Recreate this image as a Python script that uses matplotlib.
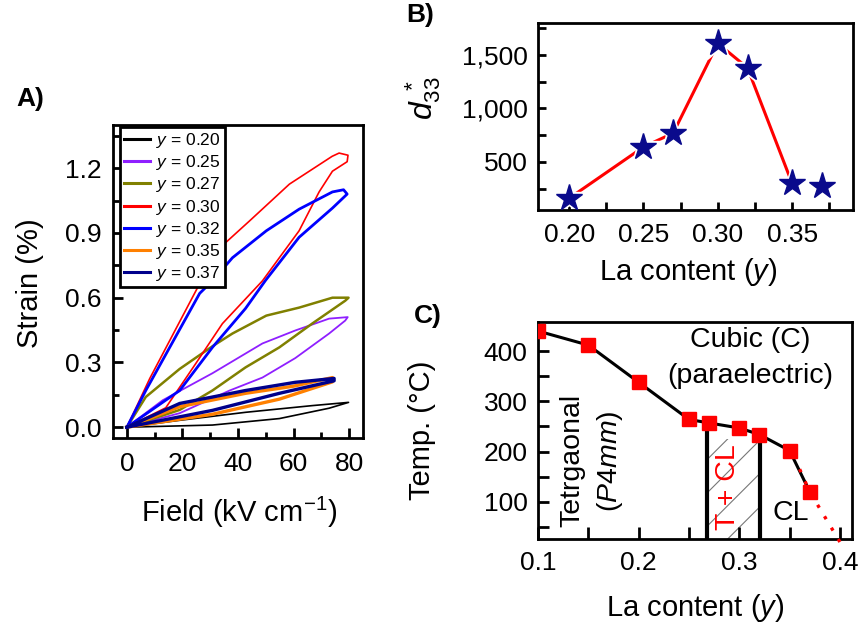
import matplotlib
matplotlib.use("Agg")
import matplotlib.pyplot as plt
from matplotlib.ticker import FormatStrFormatter

plt.rcParams['font.family'] = ['Liberation Sans', 'DejaVu Sans']
plt.rcParams['mathtext.fontset'] = 'custom'
plt.rcParams['mathtext.rm'] = 'Liberation Sans'
plt.rcParams['mathtext.it'] = 'Liberation Sans:italic'
plt.rcParams['mathtext.bf'] = 'Liberation Sans:bold'
plt.rcParams['hatch.linewidth'] = 0.8

#----------Data----------#
# A) strain loops, field up along the lower branch then back down along the upper one
loop_labels = ['0.20', '0.25', '0.27', '0.30', '0.32', '0.35', '0.37']
loop_colors = ['black', '#8f1fff', '#808000', '#ff0000', '#0000ff', '#ff8000', '#00008b']
loop_widths = [1.2, 1.3, 1.8, 1.2, 2.0, 2.4, 2.4]

field_020 = [0, 30.8, 54.9, 72.8, 79.8, 66.7, 42.7, 19, 0]
strain_020 = [0, 0.01, 0.04, 0.088, 0.115, 0.10, 0.069, 0.032, 0]
field_025 = [0, 19, 37, 48.8, 60.6, 72.8, 78.6, 79.5, 72.8, 60.6, 48.8, 30.8, 12.9, 0]
strain_025 = [0, 0.065, 0.17, 0.23, 0.32, 0.434, 0.494, 0.51, 0.503, 0.448, 0.388, 0.25, 0.125, 0]
field_027 = [0, 19, 30.8, 42.7, 54.9, 66.7, 78.6, 79.8, 74, 62, 50.2, 38, 30.8, 19, 6.8, 0]
strain_027 = [0, 0.08, 0.17, 0.277, 0.37, 0.48, 0.586, 0.6, 0.6, 0.554, 0.517, 0.434, 0.375, 0.27, 0.14, 0]
field_030 = [0, 14, 24.8, 34.4, 48.8, 62, 69.2, 74, 79.3, 79.6, 76.4, 73.9, 58.5, 44.1, 33.4, 26.2, 8.25, 0]
strain_030 = [0, 0.09, 0.295, 0.48, 0.678, 0.91, 1.09, 1.186, 1.23, 1.26, 1.27, 1.255, 1.126, 0.955, 0.83, 0.665, 0.226, 0]
field_032 = [0, 19, 30.8, 42.7, 49.9, 62, 74, 79.3, 78, 74, 62, 50.2, 38, 30.8, 26.2, 6.8, 0]
strain_032 = [0, 0.17, 0.37, 0.55, 0.68, 0.88, 1.015, 1.08, 1.1, 1.09, 1.01, 0.91, 0.785, 0.678, 0.62, 0.17, 0]
field_035 = [0, 30.8, 54.9, 74, 74, 60, 42.7, 19, 0]
strain_035 = [0, 0.06, 0.13, 0.21, 0.23, 0.19, 0.157, 0.095, 0]
field_037 = [0, 30.8, 54.9, 74.6, 74.6, 60.6, 42.7, 19, 0]
strain_037 = [0, 0.078, 0.157, 0.215, 0.226, 0.208, 0.17, 0.11, 0]

loop_fields = [field_020, field_025, field_027, field_030, field_032, field_035, field_037]
loop_strains = [strain_020, strain_025, strain_027, strain_030, strain_032, strain_035, strain_037]

# B) d33* vs La content
la_b = [0.20, 0.25, 0.27, 0.30, 0.32, 0.35, 0.37]
d33 = [160, 640, 770, 1610, 1380, 300, 270]
n_joined = 6  # the red line stops at y = 0.35

# C) phase diagram
la_c = [0.10, 0.15, 0.20, 0.25, 0.27, 0.30, 0.32, 0.35, 0.37]
tc = [440, 412, 338, 264, 257, 247, 234, 202, 120]
dot_la = [0.36, 0.37, 0.385, 0.40]
dot_tc = [165, 120, 70, 20]
phase_bounds = [0.268, 0.321]
bound_tops = [250, 225]

#----------Figure----------#
W, H = 862, 628
fig = plt.figure(figsize=(W / 100, H / 100), dpi=100)


def fpos(x, y):
    return x / W, 1 - y / H


def style(ax):
    for s in ax.spines.values():
        s.set_linewidth(2)
    ax.tick_params(which='both', direction='in', top=False, right=False, width=2,
                   labelsize=19)


axA = fig.add_axes([113 / W, 1 - 438 / H, 250 / W, 313 / H])
axB = fig.add_axes([538 / W, 1 - 210 / H, 315 / W, 187 / H])
axC = fig.add_axes([538 / W, 1 - 539 / H, 314 / W, 217 / H])

# ---- A ----
style(axA)
for f, s, lab, c, lw in zip(loop_fields, loop_strains, loop_labels, loop_colors, loop_widths):
    axA.plot(f, s, color=c, lw=lw, label='$y$ = ' + lab)
axA.set_xlim(-5, 85)
axA.set_ylim(-0.05, 1.4)
axA.set_xticks([0, 20, 40, 60, 80])
axA.set_xticks([10, 30, 50, 70], minor=True)
axA.set_yticks([0, 0.3, 0.6, 0.9, 1.2])
axA.set_yticks([0.15, 0.45, 0.75, 1.05, 1.35], minor=True)
axA.yaxis.set_major_formatter(FormatStrFormatter('%.1f'))
axA.tick_params(which='major', length=7)
axA.tick_params(which='minor', length=4)
axA.tick_params(axis='x', pad=10)
axA.tick_params(axis='y', pad=8)
leg = axA.legend(loc='upper left', bbox_to_anchor=(0.028, 0.994), borderaxespad=0,
                 fontsize=12.5, handlelength=1.5, handletextpad=0.35, labelspacing=0.18,
                 borderpad=0.25, fancybox=False, framealpha=1, edgecolor='black')
leg.get_frame().set_linewidth(2)
for h in leg.get_lines():
    h.set_linewidth(2.2)

# ---- B ----
style(axB)
axB.plot(la_b[:n_joined], d33[:n_joined], color='red', lw=2.2, zorder=2.1)
axB.plot(la_b, d33, ls='none', marker='*', ms=28, color='white', zorder=2.2)
axB.plot(la_b, d33, ls='none', marker='*', ms=20, color='#0a0a8c', zorder=3,
         clip_on=False)
axB.set_xlim(0.179, 0.391)
axB.set_ylim(50, 1800)
axB.set_xticks([0.20, 0.25, 0.30, 0.35])
axB.set_xticklabels(['0.20', '0.25', '0.30', '0.35'])
axB.set_xticks([0.225, 0.275, 0.325, 0.375], minor=True)
axB.set_yticks([500, 1000, 1500])
axB.set_yticklabels(['500', '1,000', '1,500'])
axB.set_yticks([250, 750, 1250, 1750], minor=True)
axB.tick_params(which='both', length=6)
axB.tick_params(axis='x', pad=9)
axB.tick_params(axis='y', pad=7)

# ---- C ----
style(axC)
axC.fill_between(phase_bounds, [26, 26], [bound_tops[1], bound_tops[1]],
                 facecolor='none', edgecolor='#777777', hatch='/', linewidth=0)
axC.plot(la_c, tc, color='black', lw=2.2, zorder=2)
axC.plot(dot_la, dot_tc, color='red', lw=2.4, ls=(0, (1, 3)), zorder=2.6, clip_on=False)
for xb, yt in zip(phase_bounds, bound_tops):
    axC.plot([xb, xb], [26, yt], color='black', lw=3, zorder=2)
axC.plot(la_c, tc, ls='none', marker='s', ms=10.5, color='red', zorder=3)
axC.set_xlim(0.1, 0.412)
axC.set_ylim(26, 458)
axC.set_xticks([0.1, 0.2, 0.3, 0.4])
axC.set_xticklabels(['0.1', '0.2', '0.3', '0.4'])
axC.set_xticks([0.15, 0.25, 0.35], minor=True)
axC.set_yticks([100, 200, 300, 400])
axC.set_yticks([50, 150, 250, 350], minor=True)
axC.tick_params(axis='x', which='both', length=9, pad=9)
axC.tick_params(axis='y', which='both', length=8, pad=7.5)

# ---- texts ----
fig.text(*fpos(30, 99), 'A)', fontsize=19, fontweight='bold', ha='center', va='center')
fig.text(*fpos(420, 15), 'B)', fontsize=19, fontweight='bold', ha='center', va='center')
fig.text(*fpos(428, 316), 'C)', fontsize=19, fontweight='bold', ha='center', va='center')

fig.text(*fpos(30, 283), 'Strain (%)', fontsize=21, rotation=90, ha='center', va='center')
fig.text(*fpos(239, 512), 'Field (kV cm$^{-1}$)', fontsize=21, ha='center', va='center')

fig.text(*fpos(423, 98), r'$d_{33}^{\ *}$', fontsize=23, rotation=90, ha='center', va='center')
fig.text(*fpos(688, 272), 'La content ($y$)', fontsize=21, ha='center', va='center')

fig.text(*fpos(422, 430), 'Temp. (°C)', fontsize=21, rotation=90, ha='center', va='center')
fig.text(*fpos(695, 608), 'La content ($y$)', fontsize=21, ha='center', va='center')

fig.text(*fpos(750, 340), 'Cubic (C)', fontsize=20.5, ha='center', va='center')
fig.text(*fpos(750, 376), '(paraelectric)', fontsize=20.5, ha='center', va='center')
fig.text(*fpos(572, 460), 'Tetrgaonal', fontsize=20.5, rotation=90, ha='center', va='center')
fig.text(*fpos(610, 461), '($\\mathit{P4mm}$)', fontsize=20.5, rotation=90, ha='center', va='center')
fig.text(*fpos(728, 487), 'T + CL', fontsize=20.5, color='red', rotation=90, ha='center', va='center')
fig.text(*fpos(791, 513), 'CL', fontsize=20.5, ha='center', va='center')

fig.savefig('out.png', dpi=100)
